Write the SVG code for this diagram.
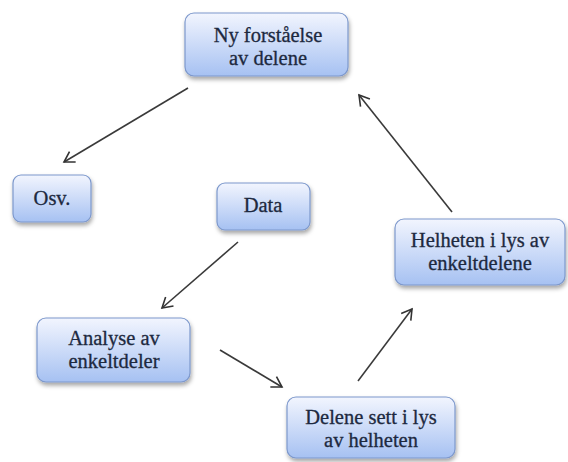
<svg xmlns="http://www.w3.org/2000/svg" width="568" height="462" viewBox="0 0 568 462">
<defs>
<linearGradient id="g" x1="0" y1="0" x2="0" y2="1">
<stop offset="0" stop-color="#f2f5fe"/>
<stop offset="1" stop-color="#a6c1f2"/>
</linearGradient>
<filter id="sh" x="-10%" y="-10%" width="125%" height="140%">
<feDropShadow dx="1" dy="3" stdDeviation="2" flood-color="#000" flood-opacity="0.35"/>
</filter>
<marker id="ah" markerWidth="14" markerHeight="14" refX="11" refY="7" orient="auto" markerUnits="userSpaceOnUse">
<path d="M1,1 L11,7 L1,13" fill="none" stroke="#333" stroke-width="1.6"/>
</marker>
</defs>
<style>
.box{fill:url(#g);stroke:#7d98cc;stroke-width:1.2;filter:url(#sh)}
.t{font-family:"Liberation Serif",serif;font-size:20.5px;fill:#1d2940;stroke:#1d2940;stroke-width:0.3;text-anchor:middle}
.c{stroke:#3a3a3a;stroke-width:1.6;fill:none;marker-end:url(#ah)}
</style>
<rect width="568" height="462" fill="#fff"/>
<g id="connectors">
<line class="c" x1="188" y1="88" x2="64" y2="162"/>
<line class="c" x1="238" y1="242" x2="162" y2="308"/>
<line class="c" x1="220" y1="350" x2="282" y2="387"/>
<line class="c" x1="358" y1="381" x2="412" y2="309"/>
<line class="c" x1="452" y1="212" x2="359" y2="95"/>
</g>
<g id="n1"><rect class="box" x="185" y="13" width="163" height="63" rx="9"/>
<text class="t" x="268" y="42">Ny forståelse</text><text class="t" x="268" y="65">av delene</text></g>
<g id="n2"><rect class="box" x="13" y="175" width="78" height="47" rx="8"/>
<text class="t" x="52" y="205">Osv.</text></g>
<g id="n3"><rect class="box" x="217" y="183" width="93" height="47" rx="8"/>
<text class="t" x="263" y="212">Data</text></g>
<g id="n4"><rect class="box" x="37" y="318" width="153" height="64" rx="9"/>
<text class="t" x="114" y="345">Analyse av</text><text class="t" x="114" y="368">enkeltdeler</text></g>
<g id="n5"><rect class="box" x="287" y="397" width="168" height="61" rx="9"/>
<text class="t" x="371" y="424">Delene sett i lys</text><text class="t" x="371" y="447">av helheten</text></g>
<g id="n6"><rect class="box" x="395" y="219" width="170" height="66" rx="9"/>
<text class="t" x="480" y="247">Helheten i lys av</text><text class="t" x="480" y="270">enkeltdelene</text></g>
</svg>
